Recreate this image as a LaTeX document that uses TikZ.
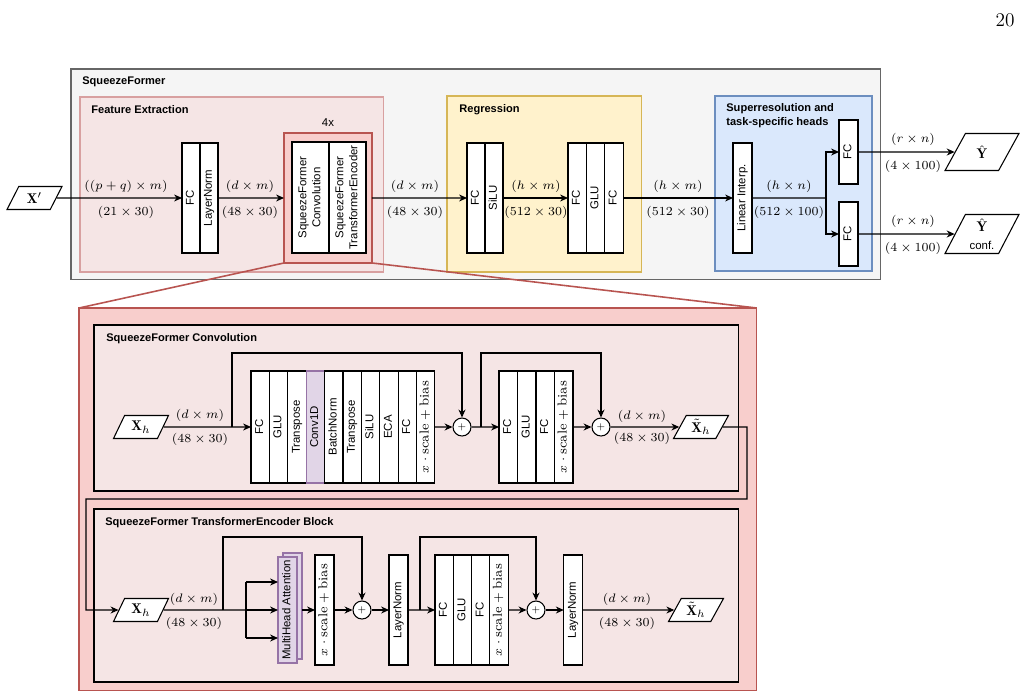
\documentclass[tikz,border=0pt]{standalone}
\usepackage{fontspec}
\setsansfont{Liberation Sans}
\usepackage{graphicx}
\usetikzlibrary{positioning,arrows.meta,shapes.geometric}
\definecolor{boxgray}{HTML}{F5F5F5}
\definecolor{edgegray}{HTML}{666666}
\definecolor{pinkfill}{HTML}{F5E5E5}
\definecolor{pinkedge}{HTML}{D8A0A0}
\definecolor{redfill}{HTML}{F8CECC}
\definecolor{rededge}{HTML}{B85450}
\definecolor{yelfill}{HTML}{FFF2CC}
\definecolor{yeledge}{HTML}{D6B656}
\definecolor{bluefill}{HTML}{DAE8FC}
\definecolor{blueedge}{HTML}{6C8EBF}
\definecolor{purpfill}{HTML}{E1D5E7}
\definecolor{purpedge}{HTML}{9673A6}
\newcommand{\lbl}{\sffamily\fontsize{6.5}{8}\selectfont}
\newcommand{\ttl}{\sffamily\bfseries\fontsize{6.3}{7.6}\selectfont}
\newcommand{\dimlbl}{\fontsize{7}{8.5}\selectfont}
\newcommand{\vlab}[1]{\rotatebox{90}{\begin{tabular}{@{}c@{}}#1\end{tabular}}}
\newcommand{\scalebias}{{\fontsize{7.4}{9}\selectfont$x\cdot\mathrm{scale}+\mathrm{bias}$}}
\tikzset{
  panel/.style={anchor=north west, inner sep=0pt, outer sep=0pt, line width=0.6pt},
  cell/.style={draw, fill=white, line width=0.6pt, inner sep=0pt, outer sep=0pt, minimum width=0.37cm, minimum height=2.2cm, font=\lbl},
  para/.style={trapezium, trapezium left angle=62, trapezium right angle=118, trapezium stretches=true, draw, fill=white, line width=0.6pt, inner sep=0pt, minimum width=1.1cm, minimum height=0.46cm, align=center, font=\fontsize{8}{9}\selectfont},
  sumnode/.style={circle, draw, fill=white, line width=0.6pt, minimum size=0.36cm, inner sep=0pt, font=\fontsize{5}{6}\selectfont},
  dim/.style={font=\dimlbl, inner sep=1pt},
  title/.style={anchor=west, font=\ttl, inner sep=0pt, align=left},
  arr/.style={line width=0.6pt, -{Stealth[length=4.5pt,width=4pt]}},
  wire/.style={line width=0.6pt},
  zoomline/.style={draw=rededge, line width=0.9pt},
}
\begin{document}
\begin{tikzpicture}[x=0.02cm,y=-0.02cm]
        \useasboundingbox (0,0) rectangle (1028,698);
        \node[inner sep=0pt] (pg) at (1005,20) {\fontsize{11}{13}\selectfont 20};

        % top: panels
        \node[panel, draw=edgegray, fill=boxgray, minimum width=16.2cm, minimum height=4.22cm] (sf) at (71,69) {};
        \node[panel, draw=pinkedge, fill=pinkfill, minimum width=6.08cm, minimum height=3.5cm] (fe) at (80,97) {};
        \node[panel, draw=rededge, fill=redfill, minimum width=1.76cm, minimum height=2.6cm] (rep) at (284,133) {};
        \node[panel, draw=yeledge, fill=yelfill, minimum width=3.9cm, minimum height=3.52cm] (reg) at (447,96) {};
        \node[panel, draw=blueedge, fill=bluefill, minimum width=3.14cm, minimum height=3.5cm] (sr) at (715,96) {};
        \node[title] (tsf) at (82,82) {SqueezeFormer};
        \node[title] (tfe) at (91,110) {Feature Extraction};
        \node[title, anchor=center, font=\lbl] (t4x) at (328,123) {4x};
        \node[title] (treg) at (459,110) {Regression};
        \node[title] (tsr) at (726,115.5) {Superresolution and\\task-specific heads};

        % top: blocks
        \node[para] (xin) at (34.5,198) {$\mathbf{X}'$};
        \node[cell, anchor=north west, minimum width=0.36cm] (fe1) at (182,143) {\vlab{FC}};
        \node[cell, right=0pt of fe1, minimum width=0.36cm] (fe2) {\vlab{LayerNorm}};
        \node[cell, anchor=north west, minimum width=0.74cm, minimum height=2.22cm] (sq1) at (292,142) {\vlab{SqueezeFormer\\Convolution}};
        \node[cell, right=0pt of sq1, minimum width=0.74cm, minimum height=2.22cm] (sq2) {\vlab{SqueezeFormer\\TransformerEncoder}};
        \node[cell, anchor=north west, minimum width=0.36cm] (rg1) at (467,143) {\vlab{FC}};
        \node[cell, right=0pt of rg1, minimum width=0.36cm] (rg2) {\vlab{SiLU}};
        \node[cell, anchor=north west, minimum width=0.367cm] (rg3) at (568,143) {\vlab{FC}};
        \node[cell, right=0pt of rg3, minimum width=0.367cm] (rg4) {\vlab{GLU}};
        \node[cell, right=0pt of rg4, minimum width=0.367cm] (rg5) {\vlab{FC}};
        \node[cell, anchor=north west, minimum width=0.38cm] (li) at (733,143) {\vlab{Linear Interp.}};
        \node[cell, anchor=north west, minimum width=0.38cm, minimum height=1.28cm] (h1) at (839,120) {\vlab{FC}};
        \node[cell, anchor=north west, minimum width=0.38cm, minimum height=1.28cm] (h2) at (839,202) {\vlab{FC}};
        \node[para, minimum width=1.48cm, minimum height=0.74cm, trapezium left angle=64, trapezium right angle=116] (y1) at (982,152) {$\hat{\mathbf{Y}}$};
        \node[para, minimum width=1.48cm, minimum height=0.78cm, trapezium left angle=64, trapezium right angle=116] (y2) at (982,234) {$\hat{\mathbf{Y}}$\\[1pt]{\lbl conf.}};
        \coordinate (br) at (826,198);

        \draw[arr] (xin.east) -- (fe1.west);
        \draw[arr] (fe2.east) -- (rep.west);
        \draw[arr] (rep.east) -- (rg1.west);
        \draw[arr] (rg2.east) -- (rg3.west);
        \draw[arr] (rg5.east) -- (li.west);
        \draw[wire] (li.east) -- (br);
        \draw[arr] (br) |- (h1.west);
        \draw[arr] (br) |- (h2.west);
        \draw[arr] (h1.east) -- (y1.west);
        \draw[arr] (h2.east) -- (y2.west);

        \node[dim] (da1) at (126,186) {$((p+q)\times m)$};
        \node[dim] (db1) at (126,212) {$(21\times 30)$};
        \node[dim] (da2) at (250,186) {$(d\times m)$};
        \node[dim] (db2) at (250,212) {$(48\times 30)$};
        \node[dim] (da3) at (415,186) {$(d\times m)$};
        \node[dim] (db3) at (415,212) {$(48\times 30)$};
        \node[dim] (da4) at (536,186) {$(h\times m)$};
        \node[dim] (db4) at (536,212) {$(512\times 30)$};
        \node[dim] (da5) at (678,186) {$(h\times m)$};
        \node[dim] (db5) at (678,212) {$(512\times 30)$};
        \node[dim] (da6) at (789,186) {$(h\times n)$};
        \node[dim] (db6) at (789,212) {$(512\times 100)$};
        \node[dim] (da7) at (913,139) {$(r\times n)$};
        \node[dim] (db7) at (913,166) {$(4\times 100)$};
        \node[dim] (da8) at (913,221) {$(r\times n)$};
        \node[dim] (db8) at (913,248) {$(4\times 100)$};

        % bottom: zoomed block
        \node[panel, draw=rededge, fill=redfill, minimum width=13.56cm, minimum height=7.66cm] (big) at (79,308) {};
        \draw[zoomline] (rep.south west) -- (big.north west);
        \draw[zoomline] (rep.south east) -- (big.north east);
        \node[panel, draw=black, fill=pinkfill, minimum width=12.9cm, minimum height=3.32cm] (conv) at (94,325) {};
        \node[panel, draw=black, fill=pinkfill, minimum width=12.9cm, minimum height=3.46cm] (tenc) at (94,509) {};
        \node[title] (tconv) at (106,339) {SqueezeFormer Convolution};
        \node[title] (ttenc) at (105,523) {SqueezeFormer TransformerEncoder Block};

        % convolution
        \node[para] (xh1) at (141,427) {$\mathbf{X}_h$};
        \node[cell, anchor=north west, minimum width=0.368cm, minimum height=2.24cm] (cv1) at (251,371) {\vlab{FC}};
        \node[cell, right=0pt of cv1, minimum width=0.368cm, minimum height=2.24cm] (cv2) {\vlab{GLU}};
        \node[cell, right=0pt of cv2, minimum width=0.368cm, minimum height=2.24cm] (cv3) {\vlab{Transpose}};
        \node[cell, right=0pt of cv3, minimum width=0.368cm, minimum height=2.24cm, fill=purpfill, draw=purpedge] (cv4) {\vlab{Conv1D}};
        \node[cell, right=0pt of cv4, minimum width=0.368cm, minimum height=2.24cm] (cv5) {\vlab{BatchNorm}};
        \node[cell, right=0pt of cv5, minimum width=0.368cm, minimum height=2.24cm] (cv6) {\vlab{Transpose}};
        \node[cell, right=0pt of cv6, minimum width=0.368cm, minimum height=2.24cm] (cv7) {\vlab{SiLU}};
        \node[cell, right=0pt of cv7, minimum width=0.368cm, minimum height=2.24cm] (cv8) {\vlab{ECA}};
        \node[cell, right=0pt of cv8, minimum width=0.368cm, minimum height=2.24cm] (cv9) {\vlab{FC}};
        \node[cell, right=0pt of cv9, minimum width=0.368cm, minimum height=2.24cm] (cv10) {\vlab{\scalebias}};
        \node[sumnode] (s1) at (462,427) {$+$};
        \node[cell, anchor=north west, minimum width=0.37cm, minimum height=2.24cm] (cw1) at (499,371) {\vlab{FC}};
        \node[cell, right=0pt of cw1, minimum width=0.37cm, minimum height=2.24cm] (cw2) {\vlab{GLU}};
        \node[cell, right=0pt of cw2, minimum width=0.37cm, minimum height=2.24cm] (cw3) {\vlab{FC}};
        \node[cell, right=0pt of cw3, minimum width=0.37cm, minimum height=2.24cm] (cw4) {\vlab{\scalebias}};
        \node[sumnode] (s2) at (601,427) {$+$};
        \node[para] (xo1) at (701,427) {$\tilde{\mathbf{X}}_h$};
        \coordinate (k1) at (232,427);
        \coordinate (k1t) at (232,353);
        \coordinate (k2) at (481,427);
        \coordinate (k2t) at (481,353);
        \coordinate (lp1) at (747,499);
        \coordinate (lp2) at (86,610);

        \draw[arr] (xh1.east) -- (cv1.west);
        \draw[arr] (k1) -- (k1t) -| (s1.north);
        \draw[arr] (cv10.east) -- (s1.west);
        \draw[arr] (s1.east) -- (cw1.west);
        \draw[arr] (k2) -- (k2t) -| (s2.north);
        \draw[arr] (cw4.east) -- (s2.west);
        \draw[arr] (s2.east) -- (xo1.west);

        \node[dim] (da9) at (200,415) {$(d\times m)$};
        \node[dim] (db9) at (200,439) {$(48\times 30)$};
        \node[dim] (da10) at (642,416) {$(d\times m)$};
        \node[dim] (db10) at (642,438) {$(48\times 30)$};

        % transformer encoder
        \node[para] (xh2) at (141,610) {$\mathbf{X}_h$};
        \node[cell, fill=purpfill, draw=purpedge, minimum width=0.38cm, minimum height=2.12cm] (mhab) at (292.5,606) {};
        \node[cell, fill=purpfill, draw=purpedge, minimum width=0.38cm, minimum height=2.12cm] (mha) at (287.5,610) {\vlab{MultiHead Attention}};
        \node[cell, minimum width=0.38cm] (sb1) at (324.5,610) {\vlab{\scalebias}};
        \node[sumnode] (t1) at (362,610) {$+$};
        \node[cell, minimum width=0.38cm] (ln1) at (398.5,610) {\vlab{LayerNorm}};
        \node[cell, anchor=north west, minimum width=0.366cm] (tf1) at (435,555) {\vlab{FC}};
        \node[cell, right=0pt of tf1, minimum width=0.366cm] (tf2) {\vlab{GLU}};
        \node[cell, right=0pt of tf2, minimum width=0.366cm] (tf3) {\vlab{FC}};
        \node[cell, right=0pt of tf3, minimum width=0.366cm] (tf4) {\vlab{\scalebias}};
        \node[sumnode] (t2) at (536,610) {$+$};
        \node[cell, minimum width=0.37cm] (ln2) at (573,610) {\vlab{LayerNorm}};
        \node[para] (xo2) at (696,610) {$\tilde{\mathbf{X}}_h$};
        \coordinate (k3) at (223,610);
        \coordinate (k3t) at (223,537);
        \coordinate (fan) at (246,610);
        \coordinate (fant) at (246,582);
        \coordinate (fanb) at (246,638);
        \coordinate (k4) at (420,610);
        \coordinate (k4t) at (420,537);

        \draw[arr] (xo1.east) -| (lp1) -| (lp2) -- (xh2.west);
        \draw[wire] (xh2.east) -- (fan);
        \draw[wire] (fant) -- (fanb);
        \draw[arr] (fant) -- (fant -| mha.west);
        \draw[arr] (fan) -- (mha.west);
        \draw[arr] (fanb) -- (fanb -| mha.west);
        \draw[arr] (k3) -- (k3t) -| (t1.north);
        \draw[arr] (mhab.east |- sb1.west) -- (sb1.west);
        \draw[arr] (sb1.east) -- (t1.west);
        \draw[arr] (t1.east) -- (ln1.west);
        \draw[arr] (ln1.east) -- (tf1.west);
        \draw[arr] (k4) -- (k4t) -| (t2.north);
        \draw[arr] (tf4.east) -- (t2.west);
        \draw[arr] (t2.east) -- (ln2.west);
        \draw[arr] (ln2.east) -- (xo2.west);

        \node[dim] (da11) at (194,599) {$(d\times m)$};
        \node[dim] (db11) at (194,623) {$(48\times 30)$};
        \node[dim] (da12) at (627,599) {$(d\times m)$};
        \node[dim] (db12) at (627,623) {$(48\times 30)$};
\end{tikzpicture}
\end{document}
